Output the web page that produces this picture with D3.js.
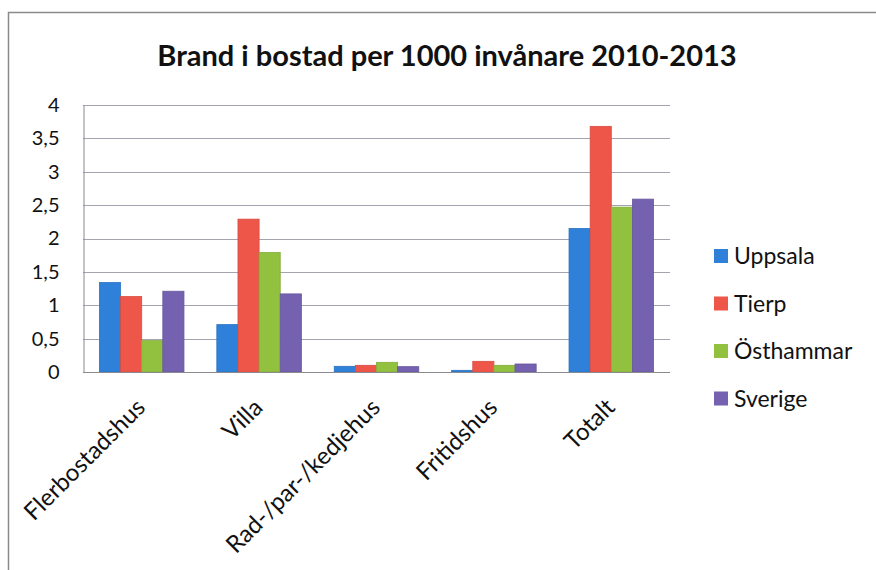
<!DOCTYPE html>
<html lang="sv">
<head>
    <meta charset="UTF-8">
    <title>Brand i bostad per 1000 invånare 2010-2013</title>
    <style>
        html, body {
            margin: 0;
            padding: 0;
            background: #fff;
            overflow: hidden;
        }
        svg text {
            font-family: Lato, "Noto Sans", sans-serif;
            fill: #111;
        }
    </style>
</head>
<body>
    <svg id="chart" width="876" height="570"></svg>

    <script src="https://cdn.jsdelivr.net/npm/d3@7"></script>
    <script>
        // data
        const categories = ['Flerbostadshus', 'Villa', 'Rad-/par-/kedjehus', 'Fritidshus', 'Totalt'];
        const seriesNames = ['Uppsala', 'Tierp', 'Östhammar', 'Sverige'];
        const uppsala   = [1.34, 0.71, 0.085, 0.025, 2.15];
        const tierp     = [1.13, 2.29, 0.10, 0.16, 3.68];
        const osthammar = [0.47, 1.79, 0.145, 0.10, 2.47];
        const sverige   = [1.21, 1.17, 0.08, 0.12, 2.59];
        const yTicks = [0, 0.5, 1, 1.5, 2, 2.5, 3, 3.5, 4];

        const seriesValues = [uppsala, tierp, osthammar, sverige];
        const colors = ['#2f80d8', '#ee5649', '#92c03f', '#7461b0'];

        const svg = d3.select('#chart');

        // outer frame (cut off on the right and bottom like the scan)
        svg.append('path')
            .attr('d', 'M8.5 570 L8.5 12.5 L876 12.5')
            .attr('fill', 'none')
            .attr('stroke', '#8a8a8e')
            .attr('stroke-width', 1.5);

        const plot = {left: 83, right: 670, top: 105, bottom: 372};

        const x = d3.scaleBand()
            .domain(categories)
            .range([plot.left, plot.right])
            .paddingInner(0.28)
            .paddingOuter(0.14);

        const xs = d3.scaleBand()
            .domain(seriesNames)
            .range([0, x.bandwidth()]);

        const y = d3.scaleLinear()
            .domain([0, 4])
            .range([plot.bottom, plot.top]);

        // gridlines
        svg.append('g')
            .selectAll('line')
            .data(yTicks)
            .join('line')
            .attr('x1', plot.left)
            .attr('x2', plot.right)
            .attr('y1', d => Math.round(y(d)) + 0.5)
            .attr('y2', d => Math.round(y(d)) + 0.5)
            .attr('stroke', '#a4a4b0')
            .attr('stroke-width', 1);

        // y axis
        const fmt = d => String(d).replace('.', ',');
        const yAxis = svg.append('g')
            .attr('transform', `translate(${plot.left + 0.5},0)`)
            .call(d3.axisLeft(y).tickValues(yTicks).tickFormat(fmt).tickSize(0).tickPadding(24));
        yAxis.select('.domain').attr('stroke', '#8a8a90');
        yAxis.selectAll('text')
            .attr('font-size', 20)
            .attr('font-family', 'Lato, sans-serif')
            .attr('fill', '#111');

        // bars
        const rows = categories.map((c, i) => ({cat: c, vals: seriesValues.map((s, k) => ({name: seriesNames[k], v: s[i], k}))}));
        svg.append('g')
            .selectAll('g')
            .data(rows)
            .join('g')
            .attr('transform', d => `translate(${x(d.cat)},0)`)
            .selectAll('rect')
            .data(d => d.vals)
            .join('rect')
            .attr('x', d => xs(d.name))
            .attr('width', xs.bandwidth())
            .attr('y', d => y(d.v))
            .attr('height', d => y(0) - y(d.v))
            .attr('fill', d => colors[d.k])
            .attr('stroke', d => d3.color(colors[d.k]).darker(0.3))
            .attr('stroke-width', 0.8);

        // x axis line
        svg.append('line')
            .attr('x1', plot.left)
            .attr('x2', plot.right)
            .attr('y1', plot.bottom + 0.5)
            .attr('y2', plot.bottom + 0.5)
            .attr('stroke', '#8a8a90');

        // rotated category labels
        svg.append('g')
            .selectAll('text')
            .data(categories)
            .join('text')
            .attr('transform', d => `translate(${x(d) + x.bandwidth() / 2 + 5},409) rotate(-45)`)
            .attr('text-anchor', 'end')
            .attr('font-size', 24)
            .text(d => d);

        // title
        svg.append('text')
            .attr('x', 447)
            .attr('y', 66)
            .attr('text-anchor', 'middle')
            .attr('font-size', 29)
            .attr('font-weight', 'bold')
            .text('Brand i bostad per 1000 invånare 2010-2013');

        // legend
        const legend = svg.append('g')
            .selectAll('g')
            .data(seriesNames)
            .join('g')
            .attr('transform', (d, i) => `translate(714,${256 + i * 47.5})`);
        legend.append('rect')
            .attr('x', 0)
            .attr('y', -7)
            .attr('width', 14)
            .attr('height', 14)
            .attr('fill', (d, i) => colors[i]);
        legend.append('text')
            .attr('x', 20)
            .attr('y', 0)
            .attr('dy', '0.36em')
            .attr('font-size', 23)
            .text(d => d);
    </script>
</body>
</html>
